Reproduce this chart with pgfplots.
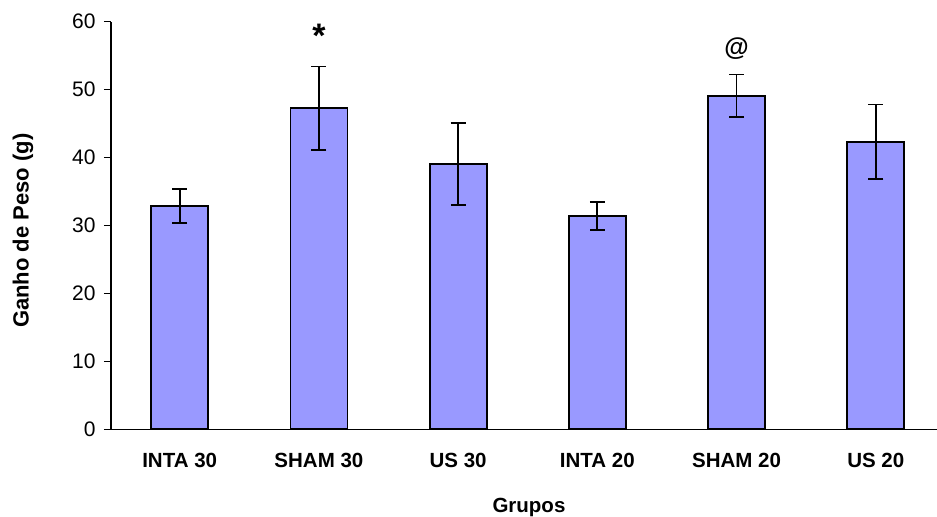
\documentclass[border=0pt]{standalone}
\usepackage{pgfplots}
\pgfplotsset{compat=1.18}
\usepackage{fontspec}
\setmainfont{Liberation Sans}
\definecolor{barblue}{HTML}{9999FF}
\begin{document}
\begin{tikzpicture}
\useasboundingbox (0,0) rectangle (937bp,517bp);
\begin{axis}[
  at={(111bp,87.7bp)}, anchor=south west,
  scale only axis, width=826bp, height=407.6bp,
  xmin=-0.4935, xmax=5.44, ymin=0, ymax=60,
  axis x line=bottom, axis y line=left,
  axis line style={-, line width=1.5bp, black},
  ytick={0,10,...,60},
  xtick={0,...,5},
  xticklabels={INTA 30,SHAM 30,US 30,INTA 20,SHAM 20,US 20},
  x tick style={draw=none},
  y tick style={line width=1.5bp, black},
  tick align=outside, major tick length=7bp,
  /pgf/number format/assume math mode=true,
  yticklabel style={font=\fontsize{21bp}{25bp}\selectfont, xshift=-5bp},
  xticklabel style={font=\bfseries\fontsize{20.5bp}{24bp}\selectfont, yshift=-13bp},
  xlabel={Grupos},
  ylabel={Ganho de Peso (g)},
  xlabel style={font=\bfseries\fontsize{20.5bp}{24bp}\selectfont, at={(rel axis cs:0.506,0)}, anchor=north, yshift=-65bp},
  ylabel style={font=\bfseries\fontsize{22bp}{26bp}\selectfont, at={(axis description cs:-0.1065,0.487)}, anchor=center},
  clip=false,
]
\addplot[ybar, bar width=57bp, fill=barblue, draw=black, line width=1.8bp,
  error bars/.cd, y dir=both, y explicit,
  error bar style={line width=1.8bp, black},
  error mark options={rotate=90, mark size=7.5bp, line width=1.8bp, black}]
  table[x=x, y=y, y error=e] {
x y e
0 32.9 2.48
1 47.25 6.16
2 39.0 6.03
3 31.4 2.06
4 49.1 3.12
5 42.35 5.45
};
\node[font=\bfseries\fontsize{34bp}{34bp}\selectfont, inner sep=0pt] at (axis cs:1,57.9) {*};
\node[font=\bfseries\fontsize{25bp}{25bp}\selectfont, inner sep=0pt] at (axis cs:4,56.0) {@};
\end{axis}
\end{tikzpicture}
\end{document}
